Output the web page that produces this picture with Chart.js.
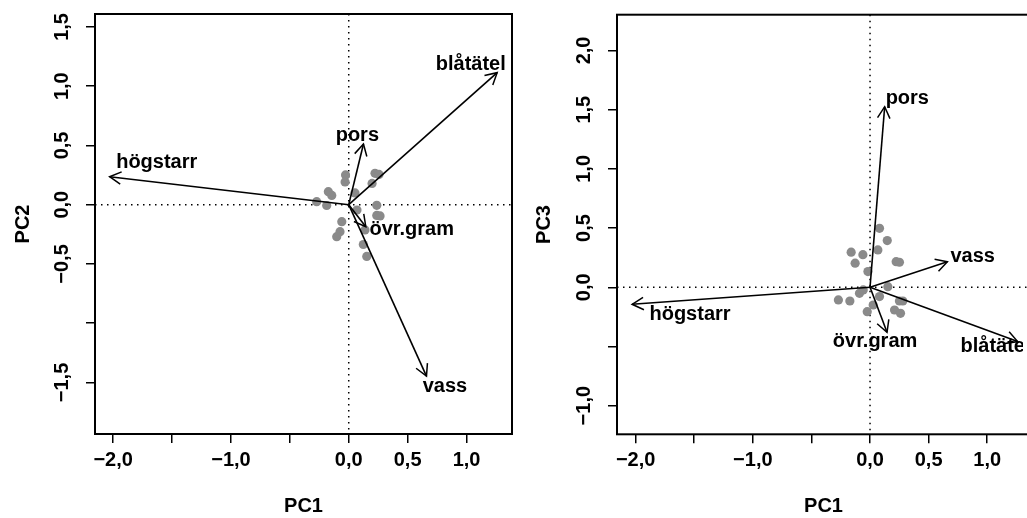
<!DOCTYPE html>
<html>
<head>
<meta charset="utf-8">
<script src="https://cdn.jsdelivr.net/npm/chart.js@4"></script>
<style>
  html, body { margin: 0; padding: 0; background: #fff; overflow: hidden; width: 1027px; height: 518px; }
  canvas { position: absolute; top: 0; }
  #pc12 { left: 0; }
  #pc13 { left: 513px; }
</style>
</head>
<body>
<canvas id="pc12" width="520" height="518"></canvas>
<canvas id="pc13" width="530" height="518"></canvas>
<script>
// variables (arrows)
const varNames = ['högstarr', 'blåtätel', 'pors', 'vass', 'övr.gram'];
const loadPC1 = [-2.03, 1.26, 0.125, 0.66, 0.145];
const loadPC2 = [0.236, 1.114, 0.512, -1.446, -0.186];
const loadPC3 = [-0.144, -0.459, 1.525, 0.216, -0.38];

// where the names sit in each panel
const textPC1a = [-1.63, 1.036, 0.073, 0.817, 0.535];
const textPC2 = [0.352, 1.179, 0.588, -1.536, -0.208];
const textPC1b = [-1.536, 1.071, 0.318, 0.876, 0.043];
const textPC3 = [-0.234, -0.502, 1.596, 0.258, -0.459];

// site scores
const scorePC1a = [-0.272, -0.187, -0.173, -0.144, -0.027, -0.031, 0.053, 0.198, 0.223, 0.257,
                   0.238, 0.238, 0.266, -0.059, -0.074, -0.102, 0.138, 0.124, 0.153, 0.07];
const scorePC2 = [0.025, -0.007, 0.110, 0.078, 0.251, 0.192, 0.099, 0.179, 0.265, 0.255,
                  -0.005, -0.091, -0.095, -0.143, -0.228, -0.270, -0.213, -0.336, -0.437, -0.045];
const scorePC1b = [-0.27, -0.172, -0.024, 0.209, 0.26, -0.09, 0.152, 0.251, 0.28, 0.081, 0.147,
                   -0.161, -0.061, 0.067, -0.127, 0.223, 0.251, -0.018, -0.058, 0.081, 0.027];
const scorePC3 = [-0.107, -0.116, -0.206, -0.192, -0.22, -0.051, 0.005, -0.116, -0.116, 0.498, 0.394,
                  0.296, 0.275, 0.315, 0.203, 0.216, 0.211, 0.132, -0.023, -0.079, -0.15];

// axis ticks
const xTicks = [-2, -1.5, -1, -0.5, 0, 0.5, 1];
const xTickText = ['−2,0', '', '−1,0', '', '0,0', '0,5', '1,0'];
const y2Ticks = [-1.5, -1, -0.5, 0, 0.5, 1, 1.5];
const y2TickText = ['−1,5', '', '−0,5', '0,0', '0,5', '1,0', '1,5'];
const y3Ticks = [-1, -0.5, 0, 0.5, 1, 1.5, 2];
const y3TickText = ['−1,0', '', '0,0', '0,5', '1,0', '1,5', '2,0'];

const FONT = '"Liberation Sans", Arial, Helvetica, sans-serif';

const biplotExtras = {
  id: 'biplotExtras',
  beforeDatasetsDraw(chart) {
    // dotted lines through zero
    const { ctx, chartArea: a, scales: { x, y } } = chart;
    const x0 = x.getPixelForValue(0), y0 = y.getPixelForValue(0);
    ctx.save();
    ctx.strokeStyle = '#000';
    ctx.lineWidth = 1.5;
    ctx.setLineDash([1.5, 4.5]);
    ctx.beginPath();
    ctx.moveTo(x0, a.top); ctx.lineTo(x0, a.bottom);
    ctx.moveTo(a.left, y0); ctx.lineTo(a.right, y0);
    ctx.stroke();
    ctx.restore();
  },
  afterDatasetsDraw(chart, args, o) {
    const { ctx, chartArea: a, scales: { x, y } } = chart;
    const ox = x.getPixelForValue(0), oy = y.getPixelForValue(0);
    ctx.save();
    ctx.strokeStyle = '#000';
    ctx.lineWidth = 1.5;
    // arrow heads
    o.ax.forEach((v, i) => {
      const tx = x.getPixelForValue(v), ty = y.getPixelForValue(o.ay[i]);
      const ang = Math.atan2(ty - oy, tx - ox);
      const len = 13, th = 0.5;
      ctx.beginPath();
      ctx.moveTo(tx - len * Math.cos(ang - th), ty - len * Math.sin(ang - th));
      ctx.lineTo(tx, ty);
      ctx.lineTo(tx - len * Math.cos(ang + th), ty - len * Math.sin(ang + th));
      ctx.stroke();
    });
    // names
    ctx.beginPath();
    ctx.rect(a.left, a.top, Math.min(a.right, o.clipRight) - a.left, a.bottom - a.top);
    ctx.clip();
    ctx.fillStyle = '#000';
    ctx.font = 'bold 20px ' + FONT;
    ctx.textAlign = 'center';
    ctx.textBaseline = 'middle';
    varNames.forEach((n, i) => {
      ctx.fillText(n, x.getPixelForValue(o.tx[i]), y.getPixelForValue(o.ty[i]));
    });
    ctx.restore();
  },
  afterDraw(chart, args, o) {
    const { ctx, chartArea: a, scales: { y } } = chart;
    ctx.save();
    ctx.strokeStyle = '#000';
    ctx.lineWidth = 2;
    ctx.strokeRect(a.left, a.top, a.right - a.left, a.bottom - a.top);
    // vertical tick labels, R style
    ctx.fillStyle = '#000';
    ctx.font = 'bold 20px ' + FONT;
    ctx.textAlign = 'center';
    ctx.textBaseline = 'middle';
    o.yTicks.forEach((v, i) => {
      if (!o.yTickText[i]) return;
      ctx.save();
      ctx.translate(a.left - 33, y.getPixelForValue(v));
      ctx.rotate(-Math.PI / 2);
      ctx.fillText(o.yTickText[i], 0, 0);
      ctx.restore();
    });
    ctx.restore();
  }
};

function makeBiplot(id, p) {
  const arrows = varNames.map((n, i) => ({
    label: n,
    data: [{ x: 0, y: 0 }, { x: p.ax[i], y: p.ay[i] }],
    showLine: true,
    borderColor: '#000',
    borderWidth: 1.6,
    pointRadius: 0,
    order: 0
  }));
  const sites = {
    label: 'sites',
    data: p.sx.map((v, i) => ({ x: v, y: p.sy[i] })),
    pointRadius: 4.6,
    pointBackgroundColor: '#8a8a8a',
    pointBorderWidth: 0,
    order: 10
  };
  const grid = { display: true, drawOnChartArea: false, drawTicks: true, tickLength: 9, color: '#000', lineWidth: 1.5 };
  return new Chart(document.getElementById(id), {
    type: 'scatter',
    data: { datasets: [sites, ...arrows] },
    options: {
      responsive: false,
      animation: false,
      events: [],
      layout: { padding: { left: 0, top: p.area.top, right: p.canvasW - p.area.right, bottom: 0 } },
      plugins: {
        legend: { display: false },
        tooltip: { enabled: false },
        biplotExtras: p
      },
      scales: {
        x: {
          type: 'linear',
          min: p.xMin, max: p.xMax,
          grid: grid,
          border: { display: false },
          afterBuildTicks: s => { s.ticks = xTicks.map(v => ({ value: v })); },
          afterFit: s => { s.height = 518 - p.area.bottom; },
          ticks: {
            autoSkip: false, maxRotation: 0, padding: 5, color: '#000',
            font: { family: FONT, size: 20, weight: 'bold' },
            callback: v => xTickText[xTicks.findIndex(t => Math.abs(t - v) < 1e-9)] || ''
          },
          title: { display: true, text: 'PC1', color: '#000', padding: { top: 0, bottom: 0 },
                   font: { family: FONT, size: 20, weight: 'bold' } }
        },
        y: {
          type: 'linear',
          min: p.yMin, max: p.yMax,
          grid: grid,
          border: { display: false },
          afterBuildTicks: s => { s.ticks = p.yTicks.map(v => ({ value: v })); },
          afterFit: s => { s.width = p.area.left; },
          ticks: { autoSkip: false, callback: () => '' },
          title: { display: true, text: p.yTitle, color: '#000', padding: { top: p.titlePad, bottom: 0 },
                   font: { family: FONT, size: 20, weight: 'bold' } }
        }
      }
    },
    plugins: [biplotExtras]
  });
}

makeBiplot('pc12', {
  canvasW: 520,
  area: { left: 95, top: 14, right: 512, bottom: 434 },
  xMin: -2.154, xMax: 1.386, yMin: -1.935, yMax: 1.609,
  ax: loadPC1, ay: loadPC2, tx: textPC1a, ty: textPC2,
  sx: scorePC1a, sy: scorePC2,
  yTicks: y2Ticks, yTickText: y2TickText, yTitle: 'PC2', titlePad: 11,
  clipRight: 9999
});

makeBiplot('pc13', {
  canvasW: 530,
  area: { left: 104, top: 14.7, right: 517, bottom: 434.3 },
  xMin: -2.159, xMax: 1.365, yMin: -1.242, yMax: 2.302,
  ax: loadPC1, ay: loadPC3, tx: textPC1b, ty: textPC3,
  sx: scorePC1b, sy: scorePC3,
  yTicks: y3Ticks, yTickText: y3TickText, yTitle: 'PC3', titlePad: 19,
  clipRight: 510
});
</script>
</body>
</html>
